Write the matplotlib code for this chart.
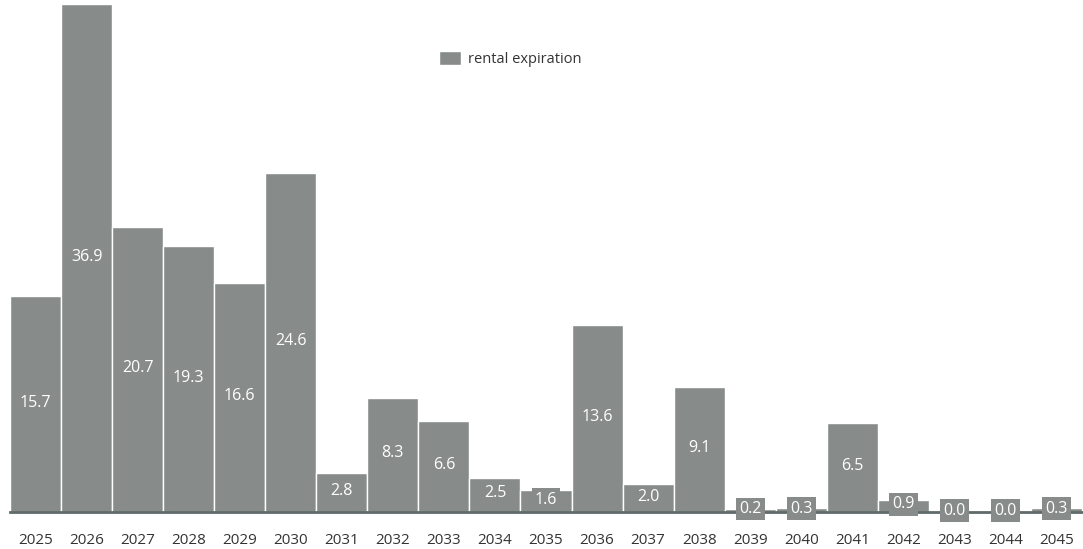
import matplotlib
matplotlib.use("Agg")
import matplotlib.pyplot as plt

years = [str(y) for y in range(2025, 2046)]
expiration = [15.7, 36.9, 20.7, 19.3, 16.6, 24.6, 2.8, 8.3, 6.6, 2.5, 1.6,
              13.6, 2.0, 9.1, 0.2, 0.3, 6.5, 0.9, 0.0, 0.0, 0.3]

BAR_COLOR = "#878c8a"
AXIS_COLOR = "#5f6a6a"

plt.rcParams["font.family"] = ["Open Sans", "DejaVu Sans"]

fig = plt.figure(figsize=(10.83, 5.49), dpi=100)
ax = fig.add_axes([10 / 1083, 37 / 549, 1072 / 1083, 508 / 549])

x = list(range(len(years)))
bars = ax.bar(x, expiration, width=1.0, color=BAR_COLOR, edgecolor="white",
              linewidth=1.0, label="rental expiration", zorder=2)

# value labels sit mid-bar; the boxed background keeps tiny values readable
for xi, v in zip(x, expiration):
    ax.text(xi, v / 2 + 0.1, f"{v:.1f}", ha="center", va="center",
            fontsize=11.5, color="white", zorder=4,
            bbox=dict(boxstyle="square,pad=0.2", facecolor=BAR_COLOR,
                      edgecolor="none"))

ax.set_xlim(-0.5, len(years) - 0.5)
ax.set_ylim(0, 36.9)
ax.set_xticks(x, years)
ax.tick_params(axis="x", length=0, pad=15, labelsize=11, labelcolor="#333333")
ax.set_yticks([])
for side in ("top", "right", "left"):
    ax.spines[side].set_visible(False)
ax.spines["bottom"].set_color(AXIS_COLOR)
ax.spines["bottom"].set_linewidth(2)
ax.spines["bottom"].set_zorder(3)

fig.legend(handles=[bars], labels=["rental expiration"], loc="center",
           bbox_to_anchor=(510 / 1083, 1 - 59 / 549), frameon=False,
           fontsize=10.5, handlelength=1.5, handleheight=1.1,
           handletextpad=0.5, labelcolor="#333333")

fig.savefig("out.png", dpi=100)
